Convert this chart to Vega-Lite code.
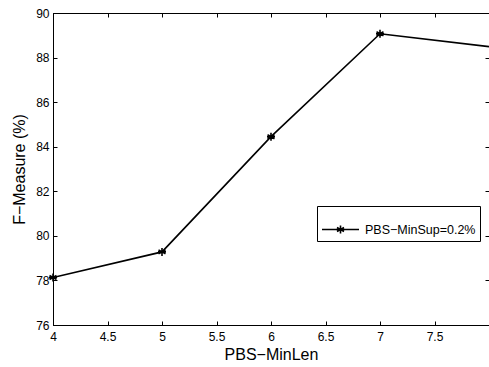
{
  "$schema": "https://vega.github.io/schema/vega-lite/v6.json",
  "width": 436,
  "height": 312,
  "autosize": {"type": "none"},
  "padding": {"left": 53, "top": 13, "right": 0, "bottom": 42},
  "background": "white",
  "config": {
    "font": "Liberation Sans",
    "view": {"stroke": "black", "strokeWidth": 1},
    "axis": {
      "grid": false,
      "domainColor": "black",
      "tickColor": "black",
      "tickSize": -4,
      "labelColor": "black",
      "titleColor": "black",
      "labelFontSize": 12,
      "titleFontSize": 16,
      "titleFontWeight": "normal",
      "labelFont": "Liberation Sans",
      "titleFont": "Liberation Sans"
    }
  },
  "data": {
    "values": [
      {"len": 4, "f": 78.13, "series": "PBS−MinSup=0.2%"},
      {"len": 5, "f": 79.28, "series": "PBS−MinSup=0.2%"},
      {"len": 6, "f": 84.45, "series": "PBS−MinSup=0.2%"},
      {"len": 7, "f": 89.07, "series": "PBS−MinSup=0.2%"},
      {"len": 8, "f": 88.49, "series": "PBS−MinSup=0.2%"}
    ]
  },
  "layer": [
    {
      "mark": {"type": "line", "strokeWidth": 1.6, "clip": true},
      "encoding": {
        "x": {
          "field": "len", "type": "quantitative",
          "scale": {"domain": [4, 8], "nice": false, "zero": false},
          "axis": {"orient": "bottom", "values": [4, 4.5, 5, 5.5, 6, 6.5, 7, 7.5], "format": "~g", "title": "PBS−MinLen", "labelPadding": 10, "titlePadding": 4, "labelFlush": false}
        },
        "y": {
          "field": "f", "type": "quantitative",
          "scale": {"domain": [76, 90], "nice": false, "zero": false},
          "axis": {"orient": "left", "values": [76, 78, 80, 82, 84, 86, 88, 90], "title": "F−Measure (%)", "labelPadding": 8, "titlePadding": 8}
        },
        "color": {
          "field": "series", "type": "nominal",
          "scale": {"range": ["black"]},
          "legend": {
            "orient": "none", "legendX": 264, "legendY": 193,
            "title": null,
            "strokeColor": "black", "fillColor": "white",
            "padding": 4,
            "labelFontSize": 12.5, "labelColor": "black", "labelFont": "Liberation Sans",
            "labelOffset": 5,
            "symbolType": "M-1,0H1M0,-0.22V0.22M-0.19,-0.11L0.19,0.11M-0.19,0.11L0.19,-0.11",
            "symbolSize": 1369,
            "symbolStrokeWidth": 1.6,
            "symbolStrokeColor": "black",
            "symbolFillColor": "transparent"
          }
        }
      }
    },
    {
      "transform": [{"filter": "datum.len < 8"}],
      "mark": {"type": "point", "shape": "M0,-1V1M-0.87,-0.5L0.87,0.5M-0.87,0.5L0.87,-0.5M-1,0H1", "filled": false, "stroke": "black", "strokeWidth": 1.6, "size": 64, "opacity": 1},
      "encoding": {
        "x": {
          "field": "len", "type": "quantitative",
          "axis": {"orient": "top", "values": [4, 4.5, 5, 5.5, 6, 6.5, 7, 7.5], "labels": false, "title": null}
        },
        "y": {
          "field": "f", "type": "quantitative",
          "axis": {"orient": "right", "values": [76, 78, 80, 82, 84, 86, 88, 90], "labels": false, "title": null}
        }
      }
    }
  ],
  "resolve": {"axis": {"x": "independent", "y": "independent"}}
}
